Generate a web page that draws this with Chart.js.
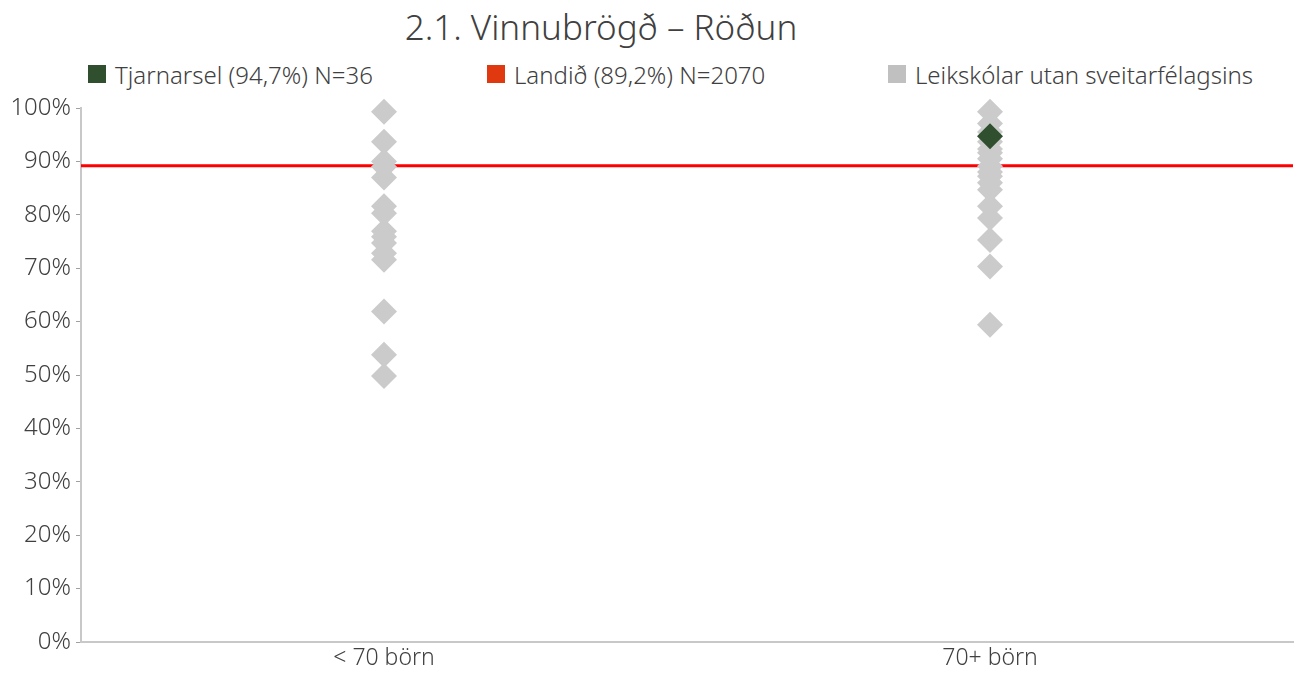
<!DOCTYPE html>
<html>
<head>
<meta charset="utf-8">
<script src="https://cdn.jsdelivr.net/npm/chart.js@4/dist/chart.umd.min.js"></script>
<style>
  html, body { margin: 0; padding: 0; background: #fff; }
  #wrap { position: relative; width: 1306px; height: 673px; font-family: "Noto Sans", sans-serif; color: #404040; }
  #title { position: absolute; left: 0; width: 1202px; top: 3px; text-align: center; font-size: 35px; font-weight: 300; line-height: 48px; }
  #legend { position: absolute; top: 58px; left: 0; width: 1306px; height: 32px; font-size: 24px; font-weight: 300; }
  .item { position: absolute; top: 0; height: 32px; display: flex; align-items: center; white-space: nowrap; }
  .box { width: 18px; height: 18px; margin-right: 9px; }
  canvas { position: absolute; left: 0; top: 0; }
</style>
</head>
<body>
<div id="wrap">
  <div id="title">2.1. Vinnubrögð – Röðun</div>
  <div id="legend"></div>
  <canvas id="chart" width="1306" height="673"></canvas>
</div>
<script>
const categories = ['< 70 börn', '70+ börn'];
const yTicks = [0, 10, 20, 30, 40, 50, 60, 70, 80, 90, 100];

// leikskólar utan sveitarfélagsins, one array per size group (%)
const otherSmall = [99.3, 93.7, 90, 89, 87, 81.6, 80.3, 76.9, 75.9, 74.7, 72.8, 71.6, 61.9, 53.8, 49.8];
const otherLarge = [99.3, 97.1, 95.5, 93.7, 92.3, 91.6, 90.5, 89.1, 88, 87.2, 86, 84.7, 81.6, 79.4, 75.3, 70.3, 59.4];

// Tjarnarsel sits in the 70+ group
const schoolValue = 94.7;
const schoolGroup = 1;
const nationalValue = 89.2;

const legendItems = [
  { label: 'Tjarnarsel (94,7%) N=36', color: '#2f4f2f', left: 88 },
  { label: 'Landið (89,2%) N=2070', color: '#e0380f', left: 487 },
  { label: 'Leikskólar utan sveitarfélagsins', color: '#c0c0c0', left: 888 }
];

const legendEl = document.getElementById('legend');
legendItems.forEach(it => {
  const d = document.createElement('div');
  d.className = 'item';
  d.style.left = it.left + 'px';
  d.innerHTML = '<span class="box" style="background:' + it.color + '"></span><span></span>';
  d.lastChild.textContent = it.label;
  legendEl.appendChild(d);
});

const otherPoints = [];
otherSmall.forEach(v => otherPoints.push({ x: 0.5, y: v }));
otherLarge.forEach(v => otherPoints.push({ x: 1.5, y: v }));

const tickFont = { family: 'Noto Sans', size: 23, weight: 300 };

new Chart(document.getElementById('chart'), {
  type: 'scatter',
  data: {
    datasets: [
      {
        label: legendItems[0].label,
        data: [{ x: schoolGroup + 0.5, y: schoolValue }],
        pointStyle: 'rectRot',
        pointRadius: 13,
        backgroundColor: '#2f4f2f',
        borderWidth: 0,
        clip: false,
        order: 0
      },
      {
        label: legendItems[1].label,
        type: 'line',
        data: [{ x: 0, y: nationalValue }, { x: categories.length, y: nationalValue }],
        borderColor: '#ff0000',
        borderWidth: 3,
        pointRadius: 0,
        fill: false,
        order: 2
      },
      {
        label: legendItems[2].label,
        data: otherPoints,
        pointStyle: 'rectRot',
        pointRadius: 13,
        backgroundColor: '#cbcbcb',
        borderWidth: 0,
        clip: false,
        order: 1
      }
    ]
  },
  options: {
    responsive: false,
    animation: false,
    layout: { padding: { top: 108, right: 1, bottom: 0, left: 0 } },
    plugins: { legend: { display: false }, tooltip: { enabled: false }, title: { display: false } },
    scales: {
      x: {
        type: 'linear',
        min: 0,
        max: categories.length,
        afterBuildTicks: axis => { axis.ticks = categories.map((c, i) => ({ value: i + 0.5 })); },
        afterFit: axis => { axis.height = 31; },
        ticks: {
          callback: (v) => categories[Math.floor(v)],
          color: '#404040',
          font: tickFont,
          padding: 3,
          maxRotation: 0
        },
        grid: { display: false, drawTicks: false },
        border: { color: '#c8c8c8', width: 2 }
      },
      y: {
        min: 0,
        max: 100,
        afterBuildTicks: axis => { axis.ticks = yTicks.map(v => ({ value: v })); },
        afterFit: axis => { axis.width = 81; },
        ticks: {
          callback: v => v + '%',
          color: '#404040',
          font: { family: 'Noto Sans', size: 24, weight: 300 },
          padding: 5
        },
        grid: { display: true, drawOnChartArea: false, drawTicks: true, tickLength: 5, color: '#a0a0a0' },
        border: { color: '#c8c8c8', width: 2 }
      }
    }
  }
});
</script>
</body>
</html>
